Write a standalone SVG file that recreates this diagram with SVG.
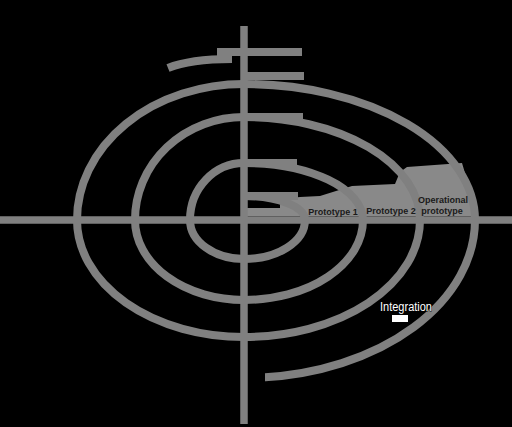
<svg xmlns="http://www.w3.org/2000/svg" width="512" height="427" viewBox="0 0 512 427">
<defs>
<marker id="arr" viewBox="0 0 10 10" refX="2" refY="5" markerWidth="2" markerHeight="2" orient="auto" markerUnits="strokeWidth">
<path d="M0,0 L10,5 L0,10 Z" fill="#000"/>
</marker>
<style>
.ln{fill:none;stroke:#808080;stroke-width:8}
.ax{fill:none;stroke:#808080;stroke-width:7.5}
.pt{font-family:"Liberation Sans",Arial,sans-serif;font-size:9px;font-weight:bold;fill:#1a1a1a}
</style>
</defs>
<rect x="0" y="0" width="512" height="427" fill="#000"/>
<g id="prototypes">
<path d="M247,216 V208 H280 V199 L300,197 L320,196 L352,186 L395,184 L400,172 L407,167 L462,163 L470,190 L472,216 Z" fill="#898989"/>
</g>
<g id="axes">
<line class="ax" x1="0" y1="220" x2="512" y2="220"/>
<line class="ax" x1="244" y1="26" x2="244" y2="424"/>
</g>
<g id="connectors">
<path class="ln" d="M244,196 A61 24 0 0 1 305,220 A61 39 0 0 1 244,259 A54 39 0 0 1 190,220 A54 57 0 0 1 244,163 A119 57 0 0 1 363,220 A119 80 0 0 1 244,300 A109 80 0 0 1 135,220 A109 103 0 0 1 244,117 A176 103 0 0 1 420,220 A176 117 0 0 1 244,337 A167 117 0 0 1 77,220 A167 136 0 0 1 244,84 A231 136 0 0 1 475,220 A231 158 0 0 1 262,377.5" marker-end="url(#arr)"/>
<path class="ln" d="M244,76 H304 M244,117 H303 M244,163 H297 M244,196 H298"/>
<path class="ln" d="M168,68 Q190,59 232,59"/>
<path class="ln" d="M217,52 H305" marker-end="url(#arr)"/>
</g>
<g id="labels">
<text class="pt" x="333" y="215" text-anchor="middle">Prototype 1</text>
<text class="pt" x="391" y="214" text-anchor="middle">Prototype 2</text>
<text class="pt" x="443" y="203" text-anchor="middle">Operational</text>
<text class="pt" x="442" y="214" text-anchor="middle">prototype</text>
<text x="380" y="311" font-family="'Liberation Sans',Arial,sans-serif" font-size="12" textLength="52" lengthAdjust="spacingAndGlyphs" fill="#fff" stroke="#000" stroke-width="1" paint-order="stroke">Integration</text>
<rect x="392" y="315" width="16" height="7" fill="#fff"/>
</g>
</svg>
